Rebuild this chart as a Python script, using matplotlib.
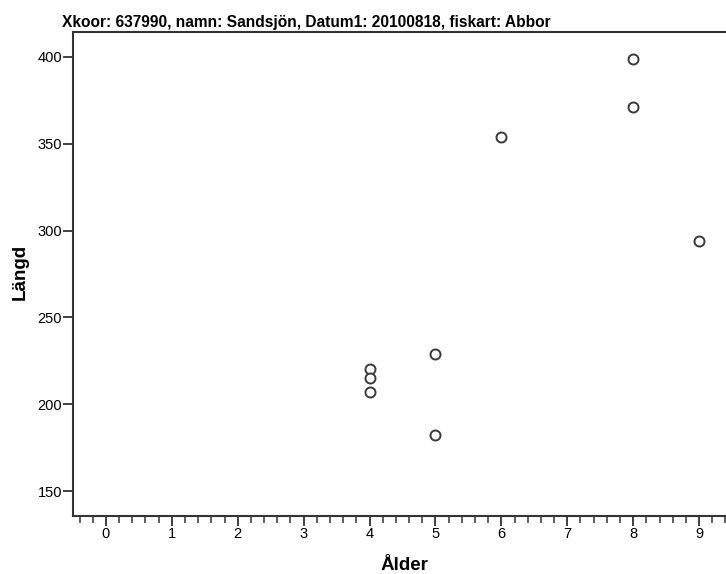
import matplotlib
matplotlib.use("Agg")
import matplotlib.pyplot as plt
from matplotlib.ticker import MultipleLocator

plt.rcParams['font.family'] = ['Liberation Sans', 'DejaVu Sans']

# Data
alder = [4, 4, 4, 5, 5, 6, 8, 8, 9]
langd = [220, 215, 207, 229, 182, 354, 399, 371, 294]

title = "Xkoor: 637990, namn: Sandsjön, Datum1: 20100818, fiskart: Abbor"

W, H = 726, 574
# axes box in pixels (right edge runs past the figure, as in the SPSS crop)
left, right, top, bottom = 73, 732, 32, 516

fig = plt.figure(figsize=(W / 100, H / 100), dpi=100)
ax = fig.add_axes([left / W, 1 - bottom / H, (right - left) / W, (bottom - top) / H])

ax.scatter(alder, langd, s=52, facecolors='white', edgecolors='#3a3a3a',
           linewidths=1.4, zorder=3, clip_on=False)

ax.set_xlim(-0.5, 9.5)
ax.set_ylim(135.6, 414.4)
ax.xaxis.set_major_locator(MultipleLocator(1))
ax.xaxis.set_minor_locator(MultipleLocator(0.2))
ax.yaxis.set_major_locator(MultipleLocator(50))

for side in ['left', 'top', 'bottom']:
    ax.spines[side].set_color('#333333')
    ax.spines[side].set_linewidth(1.5)
ax.spines['right'].set_visible(False)

ax.tick_params(axis='both', which='major', direction='out', length=7,
               width=1.3, color='#333333', labelsize=10.5, pad=1)
ax.tick_params(axis='x', which='minor', direction='out', length=5,
               width=1.1, color='#333333')

ax.set_xlabel('Ålder', fontsize=13.5, fontweight='bold', va='center')
ax.xaxis.set_label_coords((404 - left) / (right - left), (bottom - 565) / (bottom - top))
ax.set_ylabel('Längd', fontsize=13.5, fontweight='bold', va='center')
ax.yaxis.set_label_coords((20 - left) / (right - left), (bottom - 272) / (bottom - top))

fig.text(62 / W, 1 - 22 / H, title, fontsize=11.2, fontweight='bold',
         ha='left', va='center')

fig.savefig('out.png', dpi=100)
